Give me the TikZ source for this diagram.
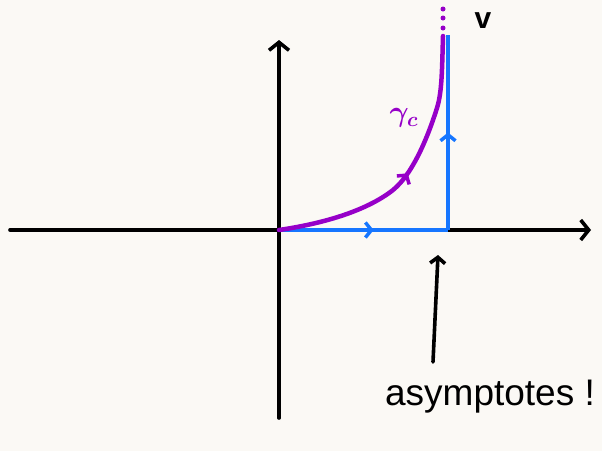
\documentclass[tikz,border=0pt]{standalone}
\usepackage{amsmath,amssymb,bm}
\usepackage{fontspec}
\setmainfont{Liberation Sans}
\usetikzlibrary{arrows.meta,decorations.markings}
\definecolor{paper}{RGB}{251,249,245}
\definecolor{cblue}{RGB}{22,118,255}
\definecolor{cpurple}{RGB}{150,0,200}
\tikzset{
  axis/.style={line width=3.6pt,line cap=round,-{Straight Barb[length=8pt,width=20pt,line width=3.6pt]}},
  bluepath/.style={cblue,line width=4.5pt,line join=miter},
  purplepath/.style={cpurple,line width=4.5pt,line cap=round},
  midtip/.style={postaction={decorate},decoration={markings,mark=at position #1 with {\arrow{Straight Barb[length=6pt,width=15pt,line width=3.5pt]}}}},
  lbl/.style={inner sep=0pt}
}
\begin{document}
\begin{tikzpicture}[x=1pt,y=-1pt]
\fill[paper] (0,0) rectangle (602,451);
\useasboundingbox (0,0) rectangle (602,451);
% axes
\coordinate (xl) at (10,230);
\coordinate (xr) at (591,230);
\coordinate (yb) at (279,418);
\coordinate (yt) at (279,40);
\coordinate (o) at (279,230);
\coordinate (c) at (448,230);
\coordinate (ct) at (448,35);
\draw[axis] (xl) -- (xr);
\draw[axis] (yb) -- (yt);
% blue path
\draw[bluepath,midtip=0.56] (o) -- (c);
\draw[bluepath,midtip=0.5] (c) -- (ct);
% purple curve
\coordinate (pt) at (443,36);
\draw[purplepath,midtip=0.5] (o) .. controls (320,224) and (365,212) .. (393,190)
  .. controls (415,172) and (430,130) .. (437,108)
  .. controls (442,92) and (442,70) .. (pt);
\foreach \yy in {28,18,9} \fill[cpurple] (443,\yy) circle (2.5pt);
% labels
\node[lbl,font=\fontsize{30}{30}\selectfont\bfseries] (v) at (483,21) {v};
\node[lbl,cpurple] (g) at (404,118) {\scalebox{1.7}{\LARGE$\bm{\gamma}_{\bm{c}}$}};
\node[lbl,font=\fontsize{37}{37}\selectfont] (asy) at (490,397) {asymptotes !};
\coordinate (ptip) at (438,255);
\draw[line width=3.6pt,line cap=round,-{Straight Barb[length=6pt,width=15pt,line width=3.6pt]}] (433,362) -- (ptip);
\end{tikzpicture}
\end{document}
